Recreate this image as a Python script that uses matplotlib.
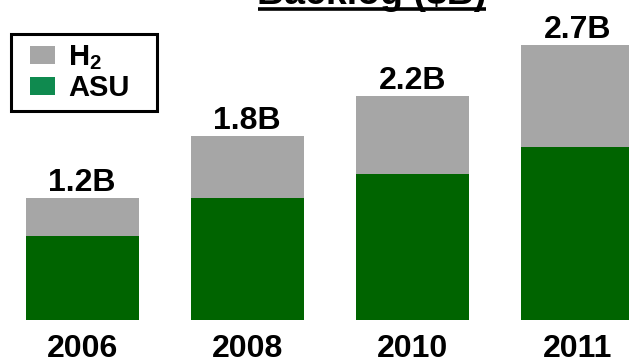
import matplotlib
matplotlib.use('Agg')
import matplotlib.pyplot as plt
from matplotlib.patches import Rectangle
from matplotlib.lines import Line2D

plt.rcParams['font.family'] = ['Liberation Sans', 'DejaVu Sans']
plt.rcParams['font.weight'] = 'bold'
plt.rcParams['mathtext.fontset'] = 'custom'
plt.rcParams['mathtext.rm'] = 'Liberation Sans:bold'
plt.rcParams['mathtext.bf'] = 'Liberation Sans:bold'

# === Данные: бэклог по годам, $B ===
years = ['2006', '2008', '2010', '2011']
asu = [0.82, 1.20, 1.43, 1.70]
h2 = [0.38, 0.60, 0.77, 1.00]

GREEN = '#006400'
GREEN_LEG = '#0f8a4f'
GRAY = '#a6a6a6'

W, H = 629, 363
fig = plt.figure(figsize=(W / 100, H / 100), dpi=100)
ax = fig.add_axes([0, 0, 1, 1])

x = list(range(len(years)))
ax.bar(x, asu, width=0.685, color=GREEN)
ax.bar(x, h2, width=0.685, bottom=asu, color=GRAY)

# подписи итогов над столбцами
for xi, a, h in zip(x, asu, h2):
    total = a + h
    ax.annotate(f'{total:.1f}B', (xi, total), xytext=(0, 5), textcoords='offset points',
                ha='center', va='baseline', fontsize=23, fontweight='bold')

# годы под столбцами
for xi, yr in zip(x, years):
    ax.annotate(yr, (xi, 0), xytext=(0, -27), textcoords='offset points',
                ha='center', va='baseline', fontsize=23, fontweight='bold')

ax.set_xlim(-0.497, 3.313)
ax.set_ylim(-0.4216, 3.137)
ax.axis('off')


def px(xp, yp):
    # пиксели от левого верхнего угла -> координаты фигуры
    return xp / W, 1 - yp / H


# заголовок (подчёркнутый)
fig.text(*px(372, 4.5), r'Backlog (\$B)', ha='center', va='baseline',
         fontsize=27, fontweight='bold')
fig.add_artist(Line2D([258 / W, 486 / W], [1 - 9 / H, 1 - 9 / H],
                      transform=fig.transFigure, color='black', lw=2.6,
                      solid_capstyle='butt'))

# легенда
fig.add_artist(Rectangle(px(11, 111), 146 / W, 77 / H, transform=fig.transFigure,
                         facecolor='white', edgecolor='black', lw=2.2))
legend_items = [('H$_2$', GRAY, 46), ('ASU', GREEN_LEG, 77)]
for label, color, top in legend_items:
    fig.add_artist(Rectangle(px(30, top + 18), 25 / W, 18 / H,
                             transform=fig.transFigure, facecolor=color, lw=0))
    fig.text(*px(68, top + 19), label, ha='left', va='baseline',
             fontsize=21, fontweight='bold')

fig.savefig('out.png', dpi=100)
